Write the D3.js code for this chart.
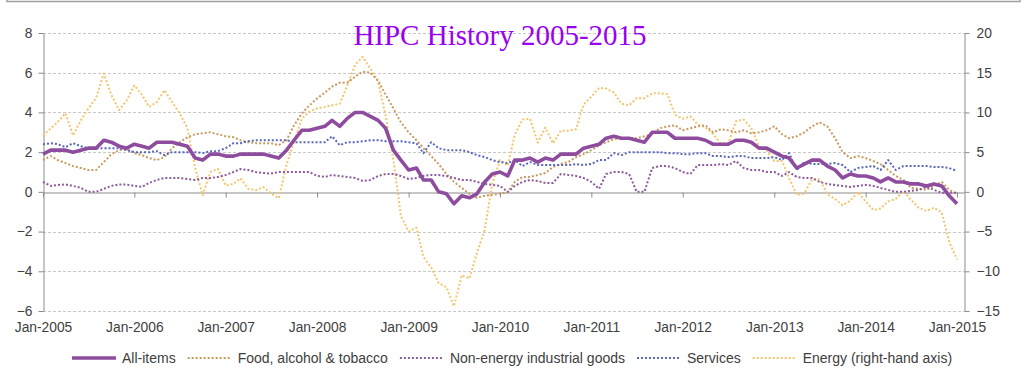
<!DOCTYPE html>
<html>
<head>
<meta charset="utf-8">
<script src="https://cdn.jsdelivr.net/npm/d3@7"></script>
<style>
  body { margin: 0; background: #fff; }
  svg { display: block; }
</style>
</head>
<body>
<div id="chart"></div>
<script>
// monthly annual rates, Jan-2005 .. Jan-2015
const allItems = [
  1.9,2.1,2.1,2.1,2.0,2.1,2.2,2.2,2.6,2.5,2.3,2.2,
  2.4,2.3,2.2,2.5,2.5,2.5,2.4,2.3,1.7,1.6,1.9,1.9,
  1.8,1.8,1.9,1.9,1.9,1.9,1.8,1.7,2.1,2.6,3.1,3.1,
  3.2,3.3,3.6,3.3,3.7,4.0,4.0,3.8,3.6,3.2,2.1,1.6,
  1.1,1.2,0.6,0.6,0.0,-0.1,-0.6,-0.2,-0.3,-0.1,0.5,0.9,
  1.0,0.8,1.6,1.6,1.7,1.5,1.7,1.6,1.9,1.9,1.9,2.2,
  2.3,2.4,2.7,2.8,2.7,2.7,2.6,2.5,3.0,3.0,3.0,2.7,
  2.7,2.7,2.7,2.6,2.4,2.4,2.4,2.6,2.6,2.5,2.2,2.2,
  2.0,1.8,1.7,1.2,1.4,1.6,1.6,1.3,1.1,0.7,0.9,0.8,
  0.8,0.7,0.5,0.7,0.5,0.5,0.4,0.4,0.3,0.4,0.3,-0.2,
  -0.6
];
const food = [
  1.6,1.8,1.6,1.45,1.3,1.2,1.1,1.1,1.5,1.9,2.1,2.15,
  1.95,1.85,1.7,1.6,1.75,2.2,2.5,2.75,2.9,2.95,3.0,2.9,
  2.8,2.75,2.6,2.5,2.45,2.45,2.45,2.35,2.6,3.35,3.95,4.35,
  4.7,5.0,5.3,5.5,5.5,5.8,6.05,6.0,5.6,4.9,4.2,3.5,
  3.0,2.6,2.2,1.8,1.4,0.9,0.5,0.2,-0.1,-0.3,-0.2,-0.15,
  -0.1,0.0,0.5,0.75,0.75,0.85,0.95,1.25,1.4,1.5,1.75,1.9,
  2.1,2.35,2.5,2.65,2.7,2.7,2.7,2.8,2.9,3.2,3.3,3.35,
  3.1,3.2,3.3,3.35,3.0,3.15,3.1,3.0,3.1,2.95,3.0,3.1,
  3.3,2.9,2.7,2.8,3.0,3.3,3.5,3.3,2.7,2.0,1.7,1.8,
  1.7,1.55,1.4,1.1,0.8,0.6,0.2,0.15,0.1,0.3,0.5,0.1,
  -0.1
];
const neig = [
  0.5,0.3,0.35,0.37,0.3,0.2,0.0,0.0,0.15,0.3,0.37,0.37,
  0.3,0.25,0.45,0.6,0.7,0.7,0.7,0.65,0.6,0.7,0.7,0.75,
  0.85,1.0,1.15,1.1,1.0,0.95,0.92,1.0,1.0,1.0,1.0,1.0,
  0.8,0.75,0.85,0.8,0.75,0.7,0.55,0.6,0.8,0.9,0.9,0.8,
  0.65,0.7,0.8,0.85,0.85,0.8,0.7,0.6,0.6,0.5,0.4,0.35,
  0.3,0.0,0.3,0.5,0.6,0.55,0.45,0.45,0.9,0.85,0.8,0.7,
  0.5,0.15,0.9,1.0,1.0,0.9,0.0,0.0,1.2,1.3,1.3,1.2,
  1.0,0.9,1.35,1.35,1.35,1.4,1.35,1.55,1.2,1.1,1.1,1.0,
  1.0,0.8,1.0,0.75,0.7,0.7,0.5,0.4,0.35,0.3,0.25,0.3,
  0.35,0.3,0.2,0.1,0.0,0.0,0.05,0.1,0.25,0.1,-0.05,-0.05,
  -0.05
];
const services = [
  2.4,2.45,2.4,2.25,2.45,2.3,2.2,2.2,2.2,2.2,2.2,2.1,
  2.0,2.0,2.0,2.05,1.85,2.0,2.0,2.0,2.0,1.95,2.05,2.05,
  2.2,2.45,2.45,2.55,2.6,2.6,2.6,2.6,2.6,2.5,2.5,2.5,
  2.5,2.5,2.8,2.35,2.5,2.5,2.55,2.6,2.6,2.55,2.55,2.55,
  2.5,2.45,1.95,2.5,2.2,2.1,2.1,2.1,2.0,1.85,1.75,1.6,
  1.5,1.45,1.6,1.3,1.5,1.35,1.35,1.35,1.35,1.35,1.4,1.35,
  1.4,1.6,1.6,1.95,1.85,2.0,2.0,2.0,2.0,2.0,1.95,1.95,
  1.9,1.9,1.95,1.95,1.8,1.8,1.75,1.8,1.8,1.7,1.7,1.7,
  1.75,1.6,1.95,1.1,1.5,1.4,1.4,1.4,1.45,1.35,1.0,1.2,
  1.25,1.3,1.1,1.6,1.1,1.3,1.3,1.3,1.3,1.25,1.25,1.2,
  1.05
];
// right-hand axis
const energy = [
  7.1,8.0,8.8,9.9,7.1,9.0,10.5,11.8,14.9,12.2,10.3,11.5,
  13.4,12.2,10.7,11.3,12.8,11.3,9.9,8.0,3.0,-0.4,2.5,2.9,
  0.8,1.0,1.7,0.4,0.2,0.6,-0.2,-0.8,3.4,6.3,9.2,10.1,
  10.5,10.7,10.9,11.1,13.4,16.0,17.0,15.5,13.9,9.6,4.0,-3.0,
  -5.0,-4.5,-8.2,-9.5,-11.5,-12.0,-14.4,-10.5,-10.9,-7.7,-4.8,1.0,
  4.0,3.3,7.2,9.1,9.2,6.2,8.1,6.1,7.7,7.7,7.9,11.0,
  12.0,13.1,13.0,12.5,11.1,10.9,11.8,11.8,12.4,12.4,12.3,9.7,
  9.2,9.5,8.5,8.1,7.3,6.1,6.1,8.9,9.1,8.0,5.7,5.2,
  3.9,3.9,1.7,-0.4,-0.2,1.6,1.6,-0.3,-0.9,-1.7,-1.1,0.0,
  -1.2,-2.3,-2.1,-1.2,-0.9,0.1,-1.0,-2.0,-2.4,-2.0,-2.6,-6.3,
  -8.5
];

const leftTicks = [-6, -4, -2, 0, 2, 4, 6, 8];
const rightTicks = [-15, -10, -5, 0, 5, 10, 15, 20];
const xTickLabels = ["Jan-2005","Jan-2006","Jan-2007","Jan-2008","Jan-2009","Jan-2010",
                     "Jan-2011","Jan-2012","Jan-2013","Jan-2014","Jan-2015"];
const seriesNames = ["All-items", "Food, alcohol & tobacco", "Non-energy industrial goods",
                     "Services", "Energy (right-hand axis)"];

const width = 1027, height = 389;
const font = "'Liberation Sans', Arial, sans-serif";
const axisColor = "#8c8c8c", textColor = "#404040";

const months = d3.timeMonth.range(new Date(2005, 0, 1), new Date(2015, 1, 1));

const x = d3.scaleTime()
    .domain([new Date(2005, 0, 1), new Date(2015, 0, 29)])
    .range([43, 964]);
const yL = d3.scaleLinear().domain([-6, 8]).range([311, 33]);
const yR = d3.scaleLinear().domain([-15, 20]).range([311, 33]);
const yearTicks = d3.timeYear.range(new Date(2005, 0, 1), new Date(2016, 0, 1));

const svg = d3.select("#chart").append("svg")
    .attr("width", width).attr("height", height)
    .style("font-family", font);

// frame line of the box above
svg.append("path")
    .attr("d", "M7,0V1.5H1020V0")
    .attr("fill", "none").attr("stroke", "#a0a0a0").attr("stroke-width", 1.5);

// gridlines
svg.append("g").selectAll("line")
    .data(leftTicks.filter(d => d !== 0))
    .join("line")
    .attr("x1", 43).attr("x2", 964)
    .attr("y1", d => Math.round(yL(d)) + 0.5).attr("y2", d => Math.round(yL(d)) + 0.5)
    .attr("stroke", "#c8c8c8").attr("stroke-dasharray", "3,2");

// left axis
const gL = svg.append("g")
    .attr("transform", "translate(43.5,0)")
    .call(d3.axisLeft(yL).tickValues(leftTicks).tickSize(5).tickSizeOuter(0).tickPadding(6));
// right axis
const gR = svg.append("g")
    .attr("transform", "translate(964.5,0)")
    .call(d3.axisRight(yR).tickValues(rightTicks).tickSize(5).tickSizeOuter(0).tickPadding(7));
// zero line with year ticks
const gX = svg.append("g")
    .attr("transform", `translate(0,${Math.round(yL(0)) + 0.5})`)
    .call(d3.axisBottom(x).tickValues(yearTicks).tickSize(5).tickSizeOuter(0).tickFormat(""));
// year labels under the plot
const gXL = svg.append("g")
    .attr("transform", "translate(0,311)")
    .call(d3.axisBottom(x).tickValues(yearTicks).tickSize(0).tickPadding(11)
        .tickFormat((d, i) => xTickLabels[i]));
gXL.select(".domain").remove();

[gL, gR, gX, gXL].forEach(g => {
    g.selectAll(".domain, line").attr("stroke", axisColor);
    g.selectAll("text").attr("fill", textColor)
        .style("font-family", font).style("font-size", "13.8px");
});

// series
const styles = [
    { data: allItems, scale: yL, color: "#8e4c9e", width: 3.6, dash: null },
    { data: food, scale: yL, color: "#c99a5e", width: 2, dash: "2,2" },
    { data: neig, scale: yL, color: "#8d5b9c", width: 2, dash: "2,2" },
    { data: services, scale: yL, color: "#5866bd", width: 2, dash: "2,2" },
    { data: energy, scale: yR, color: "#f2c66e", width: 2, dash: "2,2" }
];

const drawOrder = [4, 1, 2, 3, 0];
drawOrder.forEach(k => {
    const s = styles[k];
    const line = d3.line()
        .x((d, i) => x(months[i]))
        .y(d => s.scale(d));
    svg.append("path")
        .datum(s.data)
        .attr("fill", "none")
        .attr("stroke", s.color)
        .attr("stroke-width", s.width)
        .attr("stroke-linejoin", "round")
        .attr("stroke-dasharray", s.dash)
        .attr("d", line);
});

// title
svg.append("text")
    .attr("x", 500).attr("y", 45)
    .attr("text-anchor", "middle")
    .style("font-family", "'Liberation Serif', 'Times New Roman', serif")
    .style("font-size", "29px")
    .attr("fill", "#9a00f0")
    .text("HIPC History 2005-2015");

// legend
const legend = svg.append("g").attr("transform", "translate(0,358)");
let lx = 72;
seriesNames.forEach((name, i) => {
    const s = styles[i];
    legend.append("line")
        .attr("x1", lx).attr("x2", lx + 44)
        .attr("y1", 0).attr("y2", 0)
        .attr("stroke", s.color)
        .attr("stroke-width", s.width)
        .attr("stroke-dasharray", s.dash);
    const t = legend.append("text")
        .attr("x", lx + 50).attr("y", 0)
        .attr("dy", "0.35em")
        .attr("fill", textColor)
        .style("font-size", "14px")
        .text(name);
    lx += 50 + t.node().getComputedTextLength() + 12;
});
</script>
</body>
</html>
